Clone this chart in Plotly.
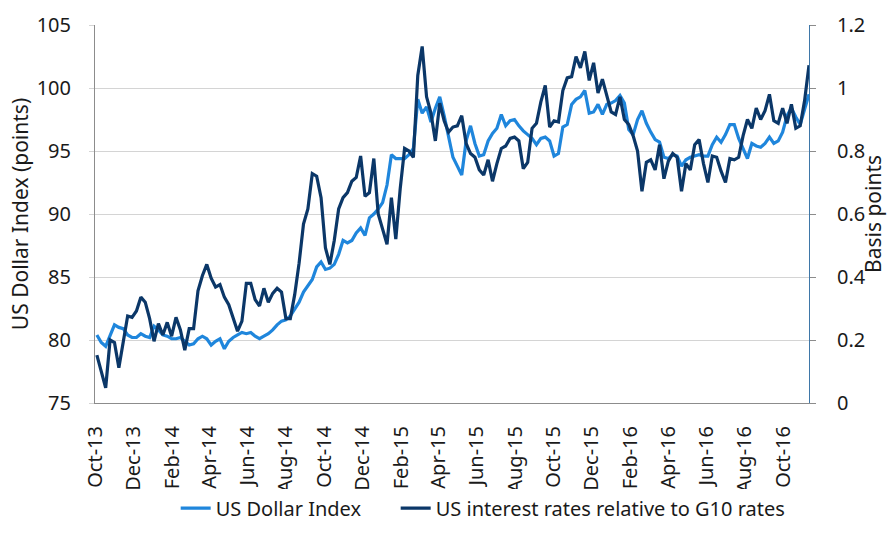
import pandas as pd
import plotly.graph_objects as go

# Weekly observations, Oct 2013 - Nov 2016
dates = pd.date_range("2013-10-04", periods=163, freq="7D")

usd_index = [
    80.4, 79.8, 79.5, 80.3, 81.2, 81.0, 80.9, 80.4, 80.2, 80.2,
    80.5, 80.3, 80.2, 81.1, 80.8, 80.4, 80.3, 80.1, 80.1, 80.2,
    79.9, 79.6, 79.7, 80.1, 80.3, 80.1, 79.6, 79.9, 80.1, 79.3,
    79.9, 80.2, 80.4, 80.6, 80.5, 80.6, 80.3, 80.1, 80.3, 80.5,
    80.8, 81.2, 81.5, 81.6, 81.9, 82.4, 83.0, 83.8, 84.3, 84.8,
    85.8, 86.2, 85.6, 85.7, 86.0, 86.8, 87.9, 87.7, 87.9, 88.5,
    88.9, 88.3, 89.7, 90.0, 90.4, 90.9, 92.3, 94.7, 94.4, 94.4,
    94.4, 94.7, 95.2, 99.1, 98.0, 98.5, 97.3, 98.4, 99.3, 97.8,
    96.2, 94.5, 93.8, 93.1, 95.8, 97.0, 95.6, 94.6, 94.7, 95.8,
    96.4, 96.8, 97.9, 97.0, 97.4, 97.5, 97.0, 96.6, 96.3, 96.0,
    95.5, 96.0, 96.1, 95.8, 94.6, 94.8, 96.9, 97.1, 98.7, 99.1,
    99.3, 99.8, 98.0, 98.1, 98.7, 97.9, 98.7, 98.8, 99.0, 99.4,
    98.8, 96.7, 96.3, 97.5, 98.2, 97.2, 96.5, 95.9, 95.7, 94.5,
    94.4, 94.7, 94.6, 93.8, 94.3, 94.5, 94.6, 94.7, 94.6, 94.6,
    95.5, 96.1, 95.7, 96.3, 97.1, 97.1, 96.0, 95.2, 94.4, 95.6,
    95.4, 95.3, 95.6, 96.1, 95.6, 95.8, 96.5, 97.8, 98.4, 97.7,
    97.1, 98.3, 99.5,
]

us_rel_g10 = [
    0.152, 0.104, 0.048, 0.200, 0.192, 0.112, 0.196, 0.276, 0.272, 0.292,
    0.336, 0.320, 0.268, 0.196, 0.252, 0.216, 0.256, 0.212, 0.272, 0.232,
    0.168, 0.236, 0.236, 0.356, 0.404, 0.440, 0.396, 0.368, 0.376, 0.336,
    0.312, 0.272, 0.228, 0.260, 0.380, 0.380, 0.328, 0.308, 0.364, 0.320,
    0.348, 0.364, 0.352, 0.268, 0.268, 0.344, 0.444, 0.568, 0.616, 0.728,
    0.720, 0.652, 0.492, 0.440, 0.516, 0.616, 0.652, 0.668, 0.704, 0.716,
    0.784, 0.656, 0.668, 0.776, 0.600, 0.552, 0.504, 0.652, 0.520, 0.680,
    0.808, 0.800, 0.780, 1.040, 1.132, 0.972, 0.920, 0.832, 0.952, 0.896,
    0.860, 0.876, 0.880, 0.912, 0.824, 0.792, 0.780, 0.740, 0.724, 0.772,
    0.704, 0.760, 0.808, 0.816, 0.840, 0.844, 0.832, 0.744, 0.764, 0.872,
    0.888, 0.956, 1.008, 0.876, 0.896, 0.892, 0.992, 1.032, 1.036, 1.100,
    1.064, 1.116, 1.024, 1.080, 0.984, 1.028, 0.976, 0.924, 0.916, 0.972,
    0.900, 0.884, 0.848, 0.800, 0.672, 0.764, 0.772, 0.740, 0.820, 0.712,
    0.768, 0.792, 0.780, 0.672, 0.760, 0.740, 0.820, 0.836, 0.760, 0.700,
    0.784, 0.780, 0.736, 0.700, 0.776, 0.772, 0.780, 0.848, 0.900, 0.872,
    0.936, 0.900, 0.928, 0.980, 0.896, 0.888, 0.936, 0.888, 0.948, 0.872,
    0.880, 0.960, 1.072,
]

left_ticks = [75, 80, 85, 90, 95, 100, 105]
right_ticks = [0, 0.2, 0.4, 0.6, 0.8, 1, 1.2]

FONT = "Noto Sans"
LIGHT = "#1f86dc"
DARK = "#0b3768"

fig = go.Figure()
fig.add_trace(go.Scatter(
    x=dates, y=usd_index, name="US Dollar Index", mode="lines",
    line=dict(color=LIGHT, width=3.2), yaxis="y", legendwidth=175,
))
fig.add_trace(go.Scatter(
    x=dates, y=us_rel_g10, name="US interest rates relative to G10 rates",
    mode="lines", line=dict(color=DARK, width=3.2), yaxis="y2",
))

fig.update_layout(
    width=896, height=536,
    margin=dict(l=95, r=87, t=25, b=133, autoexpand=False),
    paper_bgcolor="white", plot_bgcolor="white",
    font=dict(family=FONT, size=20, color="#1a1a1a"),
    showlegend=True,
    legend=dict(orientation="h", x=0.113, xanchor="left",
                yref="container", y=0.052, yanchor="middle",
                font=dict(size=20), itemwidth=30, tracegroupgap=0),
    xaxis=dict(
        type="date", range=["2013-10-01", "2016-11-11"],
        tick0="2013-10-01", dtick="M2", tickformat="%b-%y", tickangle=-90,
        showgrid=False, showline=True, linecolor="#8c8c8c", linewidth=1,
        ticks="", ticklabelstandoff=14, zeroline=False, automargin=False,
        tickfont=dict(size=20),
    ),
    yaxis=dict(
        range=[75, 105], tickvals=left_ticks, showgrid=True, gridcolor="#d4d4d4",
        gridwidth=1, showline=True, linecolor="#8c8c8c", linewidth=1,
        ticks="outside", ticklen=5, tickcolor="#d4d4d4", automargin=False,
        ticklabelstandoff=14, zeroline=False,
        title=dict(text="US Dollar Index (points)", standoff=2, font=dict(size=21)),
    ),
    yaxis2=dict(
        range=[0, 1.2], tickvals=right_ticks, overlaying="y", side="right",
        showgrid=False, showline=True, linecolor="#3f77a8", linewidth=1,
        ticks="outside", ticklen=6, tickcolor="#8c8c8c", automargin=False,
        ticklabelstandoff=17, zeroline=False,
    ),
    annotations=[dict(
        text="Basis points", xref="paper", yref="paper", x=1.0896, y=0.5,
        xanchor="center", yanchor="middle", textangle=-90, showarrow=False,
        font=dict(size=21),
    )],
)

fig.write_html("out.html")
